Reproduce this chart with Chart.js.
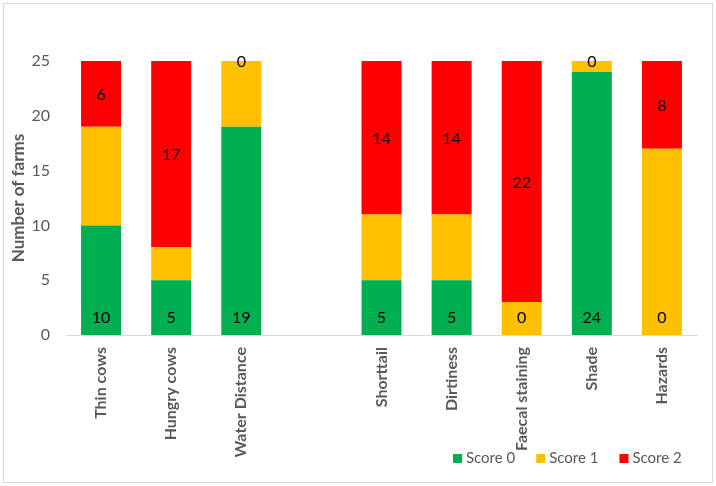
<!DOCTYPE html>
<html lang="en">
<head>
<meta charset="UTF-8">
<title>Farm scores</title>
<style>
  body { margin: 0; background: #fff; }
  #wrap { width: 716px; height: 486px; position: relative; }
</style>
</head>
<body>
<div id="wrap"><canvas id="myChart" width="716" height="486"></canvas></div>

<script src="https://cdn.jsdelivr.net/npm/chart.js"></script>
<script>
    // values, one entry per category ('' is the spacer column)
    const categories = ['Thin cows', 'Hungry cows', 'Water Distance', '', 'Shorttail', 'Dirtiness', 'Faecal staining', 'Shade', 'Hazards']
    const score0 = [10, 5, 19, null, 5, 5, 0, 24, 0]
    const score1 = [9, 3, 6, null, 6, 6, 3, 1, 17]
    const score2 = [6, 17, 0, null, 14, 14, 22, 0, 8]
    const yTicks = [0, 5, 10, 15, 20, 25]

    const grey = '#595959'
    const fontName = 'Lato, "Open Sans", sans-serif'

    // numbers inside the bars: score 0 sits at the base, score 2 in the middle of its block
    const barLabels = {
        id: 'barLabels',
        afterDatasetsDraw(chart) {
            const c = chart.ctx
            c.save()
            c.fillStyle = '#000'
            c.font = '16px ' + fontName
            c.textAlign = 'center'
            c.textBaseline = 'middle'
            const m0 = chart.getDatasetMeta(0)
            const m2 = chart.getDatasetMeta(2)
            m0.data.forEach((bar, i) => {
                if (score0[i] === null) return
                c.fillText(score0[i], bar.x, bar.base - 17)
            })
            m2.data.forEach((bar, i) => {
                if (score2[i] === null) return
                c.fillText(score2[i], bar.x, (bar.y + bar.base) / 2 + 1)
            })
            c.restore()
        }
    }

    // Excel-like legend in the lower right, plus the outer frame
    const frameAndLegend = {
        id: 'frameAndLegend',
        afterDraw(chart) {
            const c = chart.ctx
            c.save()
            c.strokeStyle = '#d9d9d9'
            c.lineWidth = 1
            c.strokeRect(3.5, 3.5, 709, 479)
            c.font = '15px ' + fontName
            c.textBaseline = 'middle'
            c.textAlign = 'left'
            let x = 453
            const y = 458
            chart.data.datasets.forEach((ds) => {
                c.fillStyle = ds.backgroundColor
                c.fillRect(x, y - 4, 9, 9)
                c.fillStyle = grey
                c.fillText(ds.label, x + 13, y)
                x += 13 + c.measureText(ds.label).width + 21
            })
            c.restore()
        }
    }

    new Chart(document.getElementById('myChart'), {
        type: 'bar',
        data: {
            labels: categories,
            datasets: [
                { label: 'Score 0', data: score0, backgroundColor: '#00B050' },
                { label: 'Score 1', data: score1, backgroundColor: '#FFC000' },
                { label: 'Score 2', data: score2, backgroundColor: '#FF0000' }
            ]
        },
        options: {
            responsive: false,
            animation: false,
            devicePixelRatio: 1,
            barPercentage: 0.57,
            categoryPercentage: 1,
            layout: { padding: { top: 61, right: 19, left: 0, bottom: 0 } },
            plugins: {
                legend: { display: false },
                tooltip: { enabled: false }
            },
            scales: {
                x: {
                    stacked: true,
                    grid: { display: false },
                    border: { display: true, color: '#d9d9d9', width: 1 },
                    ticks: {
                        color: grey,
                        font: { family: fontName, size: 16, weight: 'bold' },
                        minRotation: 90,
                        maxRotation: 90,
                        autoSkip: false,
                        padding: 4
                    },
                    afterFit(scale) { scale.height = 151 }
                },
                y: {
                    stacked: true,
                    min: 0,
                    max: 25,
                    grid: { display: false },
                    border: { display: false },
                    afterBuildTicks(scale) { scale.ticks = yTicks.map(v => ({ value: v })) },
                    ticks: {
                        color: grey,
                        font: { family: fontName, size: 16 },
                        padding: 8
                    },
                    title: {
                        display: true,
                        text: 'Number of farms',
                        color: grey,
                        font: { family: fontName, size: 17, weight: 'bold' },
                        padding: { top: 8, bottom: 0 }
                    },
                    afterFit(scale) { scale.width = 66 }
                }
            }
        },
        plugins: [barLabels, frameAndLegend]
    });
</script>
</body>
</html>
